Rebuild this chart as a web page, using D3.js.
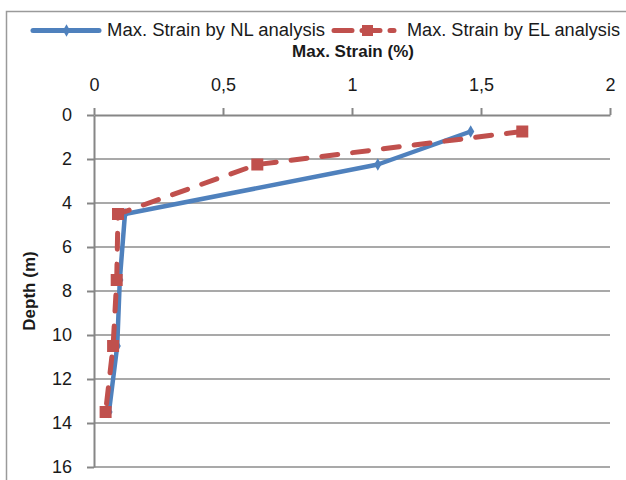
<!DOCTYPE html>
<html><head><meta charset="utf-8">
<script src="https://cdn.jsdelivr.net/npm/d3@7"></script>
<style>body{margin:0;background:#fff}svg{display:block}</style>
</head><body>
<script>
const depthTicks = [0,2,4,6,8,10,12,14,16];
const strainTicks = [0,0.5,1,1.5,2];
const nlDepth = [0.75, 2.25, 4.5, 7.5, 10.5, 13.5];
const nlStrain = [1.46, 1.10, 0.12, 0.10, 0.09, 0.058];
const elDepth = [0.75, 2.25, 4.5, 7.5, 10.5, 13.5];
const elStrain = [1.66, 0.633, 0.093, 0.088, 0.074, 0.045];
const seriesNames = ["Max. Strain by NL analysis", "Max. Strain by EL analysis"];

const W = 626, H = 480;
const svg = d3.select("body").append("svg").attr("width", W).attr("height", H);
const font = "Liberation Sans, Arial, sans-serif";

svg.append("rect").attr("x", 6.5).attr("y", 11.5).attr("width", 640).attr("height", 480)
  .attr("fill", "none").attr("stroke", "#9a9a9a").attr("stroke-width", 1.5);

const x = d3.scaleLinear().domain([0, 2]).range([94, 610]);
const y = d3.scaleLinear().domain([0, 16]).range([115, 467]);

// gridlines
svg.append("g").selectAll("line").data(depthTicks.slice(1)).join("line")
  .attr("x1", x(0)).attr("x2", x(2)).attr("y1", d => y(d)).attr("y2", d => y(d))
  .attr("stroke", "#8c8c8c").attr("stroke-width", 1.5);

const fmt = d => String(d).replace(".", ",");
const xAxis = svg.append("g").attr("transform", `translate(0,${y(0)})`)
  .call(d3.axisTop(x).tickValues(strainTicks).tickFormat(fmt).tickSize(7).tickSizeOuter(0).tickPadding(17));
const yAxis = svg.append("g").attr("transform", `translate(${x(0)},0)`)
  .call(d3.axisLeft(y).tickValues(depthTicks).tickSize(7).tickSizeOuter(0).tickPadding(15));
[xAxis, yAxis].forEach(a => {
  a.selectAll("path,line").attr("stroke", "#868686").attr("stroke-width", 2);
  a.selectAll("text").attr("font-family", font).attr("font-size", 18).attr("fill", "#1a1a1a");
});

const line = d3.line().x(d => x(d[0])).y(d => y(d[1]));
const nl = nlStrain.map((s, i) => [s, nlDepth[i]]);
const el = elStrain.map((s, i) => [s, elDepth[i]]);

svg.append("path").attr("d", line(nl)).attr("fill", "none").attr("stroke", "#4f81bd").attr("stroke-width", 4.5).attr("stroke-linejoin", "round");
svg.append("g").selectAll("path").data(nl).join("path")
  .attr("d", d3.symbol(d3.symbolDiamond, 45)())
  .attr("transform", d => `translate(${x(d[0])},${y(d[1])})`).attr("fill", "#4f81bd");

svg.append("path").attr("d", line(el)).attr("fill", "none").attr("stroke", "#c0504d").attr("stroke-width", 5)
  .attr("stroke-dasharray", "16,15").attr("stroke-linecap", "round");
svg.append("g").selectAll("rect").data(el).join("rect")
  .attr("x", d => x(d[0]) - 6).attr("y", d => y(d[1]) - 6).attr("width", 12).attr("height", 12).attr("fill", "#c0504d");

// legend
const lg = svg.append("g");
lg.append("line").attr("x1", 33).attr("x2", 99).attr("y1", 30.5).attr("y2", 30.5).attr("stroke", "#4f81bd").attr("stroke-width", 5).attr("stroke-linecap", "round");
lg.append("path").attr("d", d3.symbol(d3.symbolDiamond, 45)()).attr("transform", "translate(66.5,30.5)").attr("fill", "#4f81bd");
lg.append("text").attr("x", 107).attr("y", 36).text(seriesNames[0]).attr("font-family", font).attr("font-size", 18)
  .attr("textLength", 218).attr("lengthAdjust", "spacingAndGlyphs").attr("fill", "#1a1a1a");
lg.append("line").attr("x1", 334).attr("x2", 394).attr("y1", 30.5).attr("y2", 30.5).attr("stroke", "#c0504d").attr("stroke-width", 5)
  .attr("stroke-dasharray", "18,10").attr("stroke-linecap", "round");
lg.append("rect").attr("x", 362).attr("y", 25).attr("width", 11).attr("height", 11).attr("fill", "#c0504d");
lg.append("text").attr("x", 407).attr("y", 36).text(seriesNames[1]).attr("font-family", font).attr("font-size", 18)
  .attr("textLength", 213).attr("lengthAdjust", "spacingAndGlyphs").attr("fill", "#1a1a1a");

svg.append("text").attr("x", 353).attr("y", 57).attr("text-anchor", "middle").attr("font-family", font)
  .attr("font-size", 17).attr("font-weight", "bold").text("Max. Strain (%)").attr("fill", "#1a1a1a");
svg.append("text").attr("transform", "translate(35,291) rotate(-90)").attr("text-anchor", "middle").attr("font-family", font)
  .attr("font-size", 17).attr("font-weight", "bold").text("Depth (m)").attr("fill", "#1a1a1a");
</script>
</body></html>
